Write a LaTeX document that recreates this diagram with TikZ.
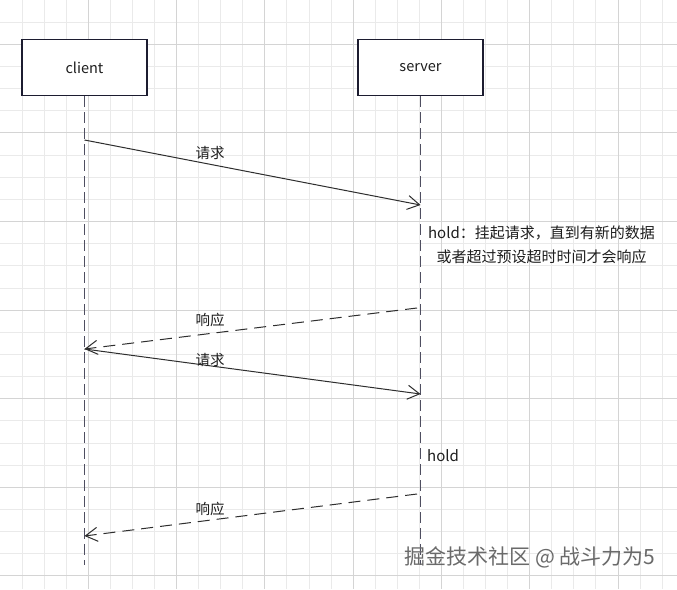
\documentclass[tikz,border=0pt]{standalone}
\usepackage{fontspec}
\newfontfamily\cjk{Noto Sans CJK SC}
\usetikzlibrary{arrows.meta}
\definecolor{boxc}{HTML}{1C1C30}
\definecolor{lifec}{HTML}{4E4E60}
\definecolor{msgc}{HTML}{2E2E2E}
\definecolor{minorc}{HTML}{EAEAEA}
\definecolor{majorc}{HTML}{D4D4D4}
\definecolor{txtc}{HTML}{1E1E1E}
\definecolor{wmc}{HTML}{6A6A6A}
\begin{document}
\begin{tikzpicture}[x=1pt,y=-1pt,
  minorgrid/.style={draw=minorc, line width=0.9pt},
  majorgrid/.style={draw=majorc, line width=0.9pt},
  actor/.style={draw=boxc, line width=1.1pt, fill=white, minimum width=125pt, minimum height=56pt, inner sep=0pt, text=txtc, font=\cjk\fontsize{14.5}{17}\selectfont},
  lifeline/.style={draw=lifec, line width=1.3pt, dash pattern=on 11pt off 5pt},
  msg/.style={draw=msgc, line width=1pt, -{Straight Barb[length=12pt,width=14pt]}},
  reply/.style={msg, dash pattern=on 12pt off 7pt},
  lbl/.style={font=\cjk\fontsize{14.5}{17}\selectfont, text=txtc, inner sep=0pt},
  note/.style={font=\cjk\fontsize{15}{24}\selectfont, text=txtc, inner sep=0pt, align=center},
  wm/.style={font=\cjk\fontsize{21}{24}\selectfont, text=wmc, inner sep=0pt}
]
\useasboundingbox (0,0) rectangle (677,589);
\fill[white] (0,0) rectangle (677,589);
% grid
\foreach \i in {1,...,30} {\draw[minorgrid] ({22.07*\i},0) -- ({22.07*\i},589);}
\foreach \j in {1,...,26} {\draw[minorgrid] (0,{22.15*\j}) -- (677,{22.15*\j});}
\foreach \i in {1,...,7} {\draw[majorgrid] ({88.28*\i},0) -- ({88.28*\i},589);}
\foreach \j in {0,...,6} {\draw[majorgrid] (0,{44.3+88.6*\j}) -- (677,{44.3+88.6*\j});}

% actors
\node[actor] (client) at (84.5,67.5) {client};
\node[actor] (server) at (420.5,67.5) {server};

% lifeline ends and message points
\coordinate (cend) at (84.5,565);
\coordinate (send) at (420.5,565);
\coordinate (c1) at (84.5,140);
\coordinate (s1) at (420.5,205);
\coordinate (s2) at (417,308);
\coordinate (c2) at (84.5,349);
\coordinate (s3) at (420.5,394);
\coordinate (s4) at (417,494);
\coordinate (c4) at (84.5,536);

\draw[lifeline] (client.south) -- (cend);
\draw[lifeline] (server.south) -- (send);

% messages
\draw[msg] (c1) -- (s1);
\draw[reply] (s2) -- (c2);
\draw[msg] (c2) -- (s3);
\draw[reply] (s4) -- (c4);

% labels
\node[lbl] (l1) at (210,153) {请求};
\node[lbl] (l2) at (210,320) {响应};
\node[lbl] (l3) at (210,360) {请求};
\node[lbl] (l4) at (210,509) {响应};

\node[note] (hold1) at (541.5,245) {hold：挂起请求，直到有新的数据\\或者超过预设超时时间才会响应};
\node[note, anchor=west] (hold2) at (427,456) {hold};

% watermark
\node[wm] (wmark) at (530,557) {掘金技术社区 @ 战斗力为5};
\end{tikzpicture}
\end{document}
